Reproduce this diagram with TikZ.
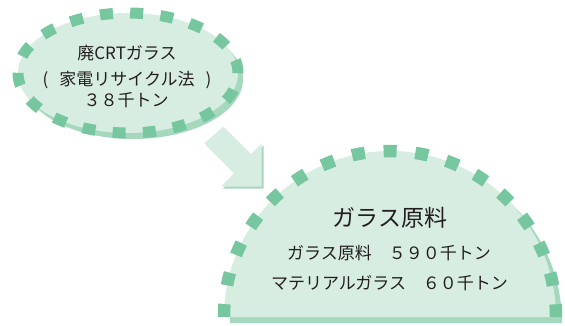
\documentclass[tikz,border=0pt]{standalone}
\usepackage{fontspec}
\setmainfont{Noto Sans CJK JP}
\definecolor{lightfill}{HTML}{D8EDE2}
\definecolor{dashcol}{HTML}{76C7A0}
\definecolor{shadowcol}{HTML}{A6D8BE}
\definecolor{txt}{HTML}{231F20}
\tikzset{
  txtsm/.style={text=txt, inner sep=0pt, font=\fontsize{17pt}{20pt}\selectfont},
  txtbig/.style={text=txt, inner sep=0pt, font=\fontsize{23pt}{26pt}\selectfont},
  elldash/.style={draw=dashcol, line width=11pt, dash pattern=on 13pt off 17.3pt},
  semidash/.style={draw=dashcol, line width=12.5pt, dash pattern=on 13pt off 18.8pt},
}
\begin{document}
\begin{tikzpicture}[x=1pt,y=-1pt]
\useasboundingbox (0,0) rectangle (565,326);
% ellipse
\fill[shadowcol] (133,79) ellipse [x radius=110pt, y radius=60pt];
\fill[lightfill] (128,73) ellipse [x radius=110pt, y radius=60pt];
\draw[elldash] (128,73) ellipse [x radius=110pt, y radius=60pt];
\node[txtsm] (t1) at (127,53) {廃CRTガラス};
\node[txtsm] (t2) at (127,80) {(\hspace{0.65em}家電リサイクル法\hspace{0.65em})};
\node[txtsm] (t3) at (126,100) {３８千トン};
% arrow
\fill[shadowcol, shift={(2,2)}] (223.3,126.7) -- (250.8,154.2) -- (261.7,143.3) -- (261.7,186.7) -- (221,186.7) -- (234,173) -- (204.3,143.3) -- cycle;
\fill[lightfill] (223.3,126.7) -- (250.8,154.2) -- (261.7,143.3) -- (261.7,186.7) -- (221,186.7) -- (234,173) -- (204.3,143.3) -- cycle;
% semicircle
\fill[shadowcol] (230,323) arc[start angle=180, end angle=0, radius=166pt] -- cycle;
\fill[lightfill] (224,317) arc[start angle=180, end angle=0, radius=166pt] -- cycle;
\draw[semidash] (224,317) arc[start angle=180, end angle=0, radius=166pt];
\node[txtbig] (g1) at (390,218) {ガラス原料};
\node[txtsm] (g2) at (389,253) {ガラス原料　５９０千トン};
\node[txtsm] (g3) at (389.5,283) {マテリアルガラス　６０千トン};
\end{tikzpicture}
\end{document}
